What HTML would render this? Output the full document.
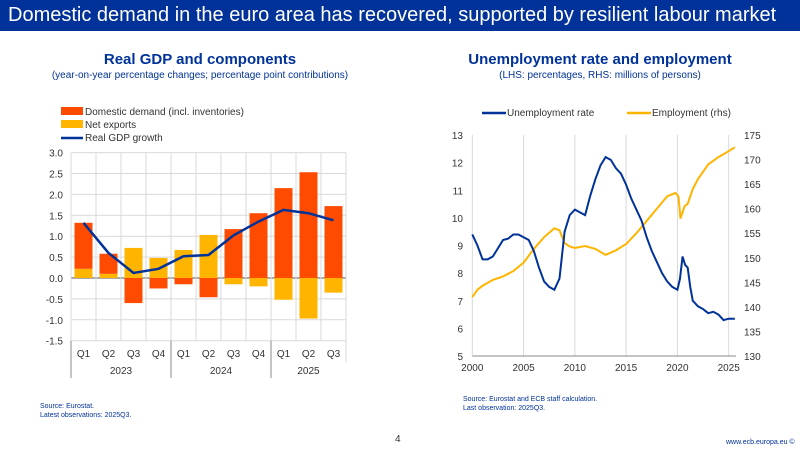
<!DOCTYPE html>
<html><head><meta charset="utf-8"><style>
body{margin:0;width:800px;height:450px;background:#fff;font-family:"Liberation Sans",sans-serif;overflow:hidden;position:relative}
.hdr{position:absolute;left:0;top:0;width:800px;height:31px;background:#003299;color:#fff;font-size:20px;line-height:31px;padding-left:8px;box-sizing:border-box;white-space:nowrap}
.t{position:absolute;color:#003299;text-align:center;font-weight:bold;font-size:15px}
.s{position:absolute;color:#003299;text-align:center;font-size:10px}
.f{position:absolute;font-size:7px;color:#003299;line-height:9px}
svg{position:absolute;left:0;top:0}
</style></head><body>
<div class="hdr">Domestic demand in the euro area has recovered, supported by resilient labour market</div>
<div class="t" style="left:0;width:400px;top:51px">Real GDP and components</div>
<div class="s" style="left:0;width:400px;top:70px">(year-on-year percentage changes; percentage point contributions)</div>
<div class="t" style="left:400px;width:400px;top:51px">Unemployment rate and employment</div>
<div class="s" style="left:400px;width:400px;top:70px">(LHS: percentages, RHS: millions of persons)</div>
<div class="f" style="left:40px;top:402px">Source: Eurostat.<br>Latest observations: 2025Q3.</div>
<div class="f" style="left:463px;top:395px">Source: Eurostat and ECB staff calculation.<br>Last observation: 2025Q3.</div>
<div style="position:absolute;left:395px;top:434px;font-size:10px;color:#333">4</div>
<div class="f" style="left:726px;top:438px">www.ecb.europa.eu ©</div>
<svg id="c" width="800" height="450"></svg>
<script>
const quarters=["Q1","Q2","Q3","Q4","Q1","Q2","Q3","Q4","Q1","Q2","Q3"];
const years=["2023","2024","2025"];
const domestic=[1.10,0.48,-0.60,-0.25,-0.15,-0.46,1.17,1.55,2.15,2.53,1.72];
const netExports=[0.22,0.10,0.72,0.48,0.67,1.03,-0.15,-0.20,-0.52,-0.97,-0.35];
const gdp=[1.32,0.60,0.12,0.22,0.52,0.55,1.02,1.35,1.63,1.55,1.38];
const leftTicks=[3.0,2.5,2.0,1.5,1.0,0.5,0.0,-0.5,-1.0,-1.5];
const unempX=[2000,2000.5,2001,2001.5,2002,2002.5,2003,2003.5,2004,2004.5,2005,2005.5,2006,2006.5,2007,2007.5,2008,2008.5,2009,2009.5,2010,2010.5,2011,2011.5,2012,2012.5,2013,2013.5,2014,2014.5,2015,2015.5,2016,2016.5,2017,2017.5,2018,2018.5,2019,2019.5,2020,2020.25,2020.5,2020.75,2021,2021.25,2021.5,2022,2022.5,2023,2023.5,2024,2024.5,2025,2025.6];
const unempY=[9.4,9.0,8.5,8.5,8.6,8.9,9.2,9.25,9.4,9.4,9.3,9.2,8.8,8.2,7.7,7.5,7.4,7.8,9.5,10.1,10.3,10.2,10.1,10.8,11.4,11.9,12.2,12.1,11.8,11.6,11.2,10.7,10.3,9.9,9.3,8.8,8.4,8.0,7.7,7.5,7.4,7.8,8.6,8.3,8.2,7.5,7.0,6.8,6.7,6.55,6.6,6.5,6.3,6.35,6.35];
const empX=[2000,2000.5,2001,2002,2003,2004,2005,2006,2007,2008,2008.5,2009,2009.5,2010,2011,2012,2013,2014,2015,2016,2017,2018,2019,2019.8,2020.1,2020.3,2020.7,2021,2021.5,2022,2022.5,2023,2024,2025,2025.6];
const empY=[142,143.5,144.3,145.5,146.2,147.3,149,151.8,154.2,156,155.6,153,152.3,152,152.4,151.8,150.6,151.5,152.8,155,157.5,160,162.5,163.2,162.5,158,160.5,161,164,166,167.5,169,170.5,171.7,172.5];
const lhsTicks=[5,6,7,8,9,10,11,12,13];
const rhsTicks=[130,135,140,145,150,155,160,165,170,175];
const xTicks=[2000,2005,2010,2015,2020,2025];
const svg=document.getElementById('c');const NS='http://www.w3.org/2000/svg';
function mk(t,a,txt){const e=document.createElementNS(NS,t);for(const k in a)e.setAttribute(k,a[k]);if(txt!==undefined)e.textContent=txt;svg.appendChild(e);return e;}
// left chart
const L0=71,L1=346,Y0=278,U=41.8;const bw=(L1-L0)/11;
const ly=v=>Y0-v*U, lx=i=>L0+bw*(i+0.5);
leftTicks.forEach(t=>{let e=mk('line',{x1:L0,x2:L1,y1:ly(t),y2:ly(t),stroke:t===0?'#555':'#d9d9d9','stroke-width':1});
let l=mk('text',{x:L0-8,y:ly(t)+4,'text-anchor':'end','font-size':10,fill:'#333'},t.toFixed(1));});
for(let i=0;i<=11;i++){let e=mk('line',{x1:L0+bw*i,x2:L0+bw*i,y1:ly(3),y2:ly(-1.5),stroke:'#d9d9d9'});}
mk('line',{x1:L0,x2:L0,y1:ly(-1.5),y2:378,stroke:'#888'});
[4,8].forEach(i=>mk('line',{x1:L0+bw*i,x2:L0+bw*i,y1:ly(-1.5),y2:378,stroke:'#888'}));
mk('line',{x1:L1,x2:L1,y1:ly(-1.5),y2:362,stroke:'#d9d9d9'});
quarters.forEach((q,i)=>{
 let nx=netExports[i],dd=domestic[i];let pos=0,neg=0;
 function seg(v,col,nm){let y0,y1;if(v>=0){y0=pos;y1=pos+v;pos=y1;}else{y0=neg;y1=neg+v;neg=y1;}
  let r=mk('rect',{x:lx(i)-9,width:18,y:ly(Math.max(y0,y1)),height:Math.abs(ly(y0)-ly(y1)),fill:col});}
 seg(nx,'#ffb400','bar-net-exports');seg(dd,'#ff4b00','bar-domestic-demand');
 let t=mk('text',{x:lx(i),y:357,'text-anchor':'middle','font-size':10,fill:'#333'},q);
});
years.forEach((y,j)=>{const c=j<2?L0+bw*(4*j+2):L0+bw*9.5;let t=mk('text',{x:c,y:374,'text-anchor':'middle','font-size':10,fill:'#333'},y);});
let gl=mk('polyline',{points:gdp.map((v,i)=>lx(i)+','+ly(v)).join(' '),fill:'none',stroke:'#003299','stroke-width':2.5});
[['#ff4b00','Domestic demand (incl. inventories)',112],['#ffb400','Net exports',125]].forEach(([c,n,y])=>{let r=mk('rect',{x:61,y:y-5,width:22,height:8,fill:c});let t=mk('text',{x:85,y:y+3,'font-size':10,fill:'#333'},n);});
mk('line',{x1:61,x2:83,y1:138,y2:138,stroke:'#003299','stroke-width':2.5});
let lg=mk('text',{x:85,y:141,'font-size':10,fill:'#333'},'Real GDP growth');
// right chart
const R0=472.3,R1=736,X25=728.7;
const rx=y=>R0+(y-2000)*(X25-R0)/25, ry=v=>135+(13-v)*(356-135)/8, ry2=v=>135+(175-v)*(356-135)/45;
xTicks.forEach(t=>{let e=mk('line',{x1:rx(t),x2:rx(t),y1:135,y2:356,stroke:'#d9d9d9'});
let l=mk('text',{x:rx(t),y:371,'text-anchor':'middle','font-size':10,fill:'#333'},t);});
lhsTicks.forEach(t=>{let l=mk('text',{x:463,y:ry(t)+4,'text-anchor':'end','font-size':10,fill:'#333'},t);});
rhsTicks.forEach(t=>{let l=mk('text',{x:744,y:ry2(t)+4,'font-size':10,fill:'#333'},t);});
mk('line',{x1:R0,x2:R1,y1:356,y2:356,stroke:'#888'});
let el=mk('polyline',{points:empX.map((x,i)=>rx(x)+','+ry2(empY[i])).join(' '),fill:'none',stroke:'#ffb400','stroke-width':2});
let ul=mk('polyline',{points:unempX.map((x,i)=>rx(x)+','+ry(unempY[i])).join(' '),fill:'none',stroke:'#003299','stroke-width':2});
mk('line',{x1:482,x2:506,y1:113,y2:113,stroke:'#003299','stroke-width':2.5});
let a=mk('text',{x:507,y:116,'font-size':10,fill:'#333'},'Unemployment rate');
mk('line',{x1:627,x2:651,y1:113,y2:113,stroke:'#ffb400','stroke-width':2.5});
let b=mk('text',{x:652,y:116,'font-size':10,fill:'#333'},'Employment (rhs)');
</script>
</body></html>
